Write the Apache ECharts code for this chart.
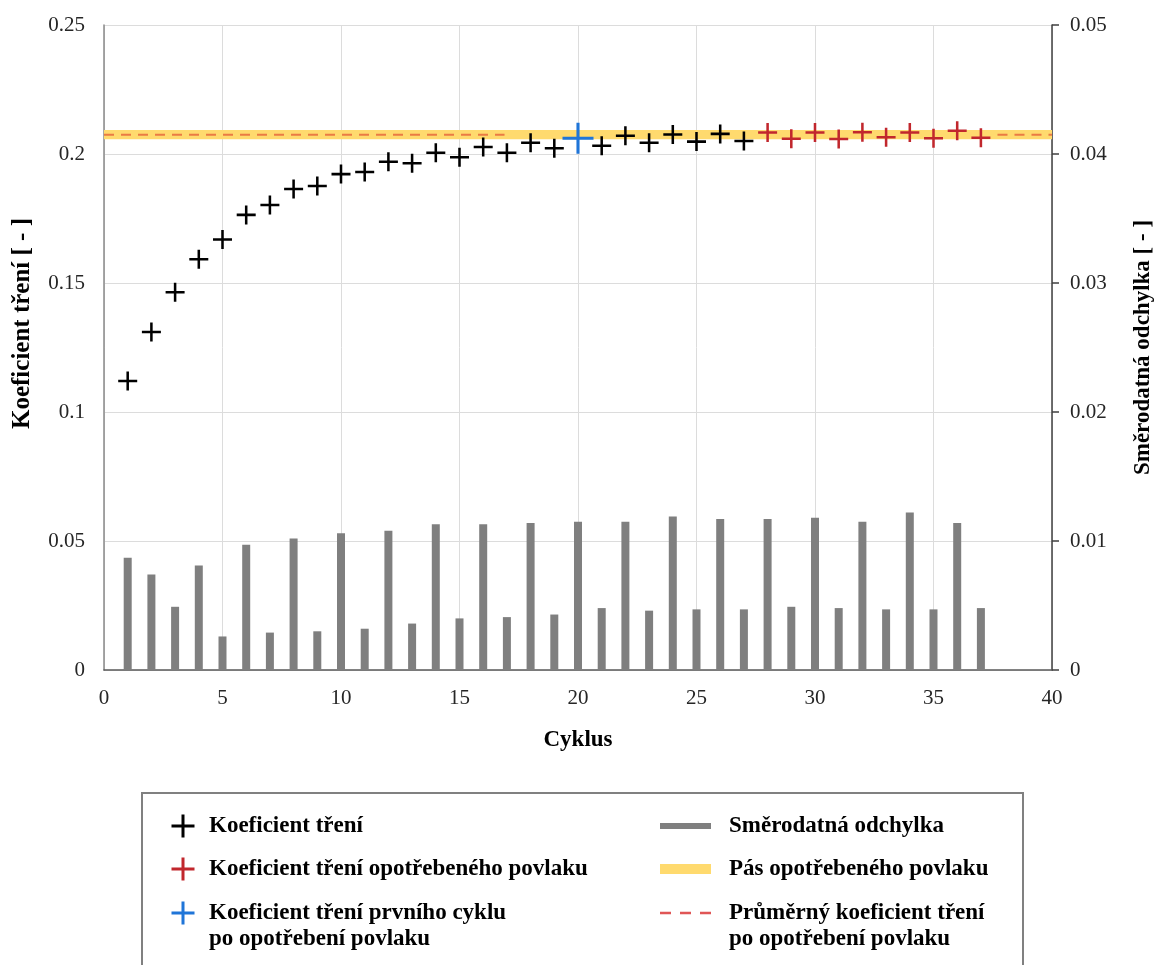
<!DOCTYPE html>
<html>
<head>
<meta charset="utf-8">
<script src="https://cdn.jsdelivr.net/npm/echarts@6/dist/echarts.min.js"></script>
<style>
html,body{margin:0;padding:0;background:#fff;}
#chart{width:1160px;height:965px;}
</style>
</head>
<body>
<div id="chart"></div>
<script>
// ---- data ----
const cycles = [1,2,3,4,5,6,7,8,9,10,11,12,13,14,15,16,17,18,19,20,21,22,23,24,25,26,27,28,29,30,31,32,33,34,35,36,37];
const frictionCoef = [0.1120,0.1310,0.1464,0.1592,0.1669,0.1764,0.1802,0.1864,0.1876,0.1922,0.1930,0.1970,0.1964,0.2005,0.1987,0.2027,0.2005,0.2044,0.2022,0.2061,0.2032,0.2071,0.2044,0.2076,0.2048,0.2078,0.2050,0.2083,0.2059,0.2083,0.2058,0.2084,0.2065,0.2083,0.2061,0.2090,0.2063];
const stdDev = [0.0087,0.0074,0.0049,0.0081,0.0026,0.0097,0.0029,0.0102,0.0030,0.0106,0.0032,0.0108,0.0036,0.0113,0.0040,0.0113,0.0041,0.0114,0.0043,0.0115,0.0048,0.0115,0.0046,0.0119,0.0047,0.0117,0.0047,0.0117,0.0049,0.0118,0.0048,0.0115,0.0047,0.0122,0.0047,0.0114,0.0048];
const firstWornCycle = 20;
const wornFromCycle = 28;
const meanWorn = 0.2075;
const bandWorn = [0.2057, 0.2093];
const meanLineSegments = [[0, 16.9], [37.7, 40]];
const xRange = [0, 40, 5];
const yLeftRange = [0, 0.25, 0.05];
const yRightRange = [0, 0.05, 0.01];

const S_BLACK = 'Koeficient tření';
const S_RED = 'Koeficient tření opotřebeného povlaku';
const S_BLUE = 'Koeficient tření prvního cyklu\npo opotřebení povlaku';
const S_STD = 'Směrodatná odchylka';
const S_BAND = 'Pás opotřebeného povlaku';
const S_MEAN = 'Průměrný koeficient tření\npo opotřebení povlaku';

// ---- build ----
const pts = cycles.map((c, i) => [c, frictionCoef[i]]);
const blackData = pts.filter(p => p[0] !== firstWornCycle && p[0] < wornFromCycle);
const blueData = pts.filter(p => p[0] === firstWornCycle);
const redData = pts.filter(p => p[0] >= wornFromCycle);
const stdData = cycles.map((c, i) => [c, stdDev[i]]);
const meanData = [];
meanLineSegments.forEach((seg, k) => {
  if (k > 0) meanData.push([(meanLineSegments[k - 1][1] + seg[0]) / 2, null]);
  meanData.push([seg[0], meanWorn], [seg[1], meanWorn]);
});

const FONT = "'Liberation Serif', 'Times New Roman', serif";
const CROSS18 = 'path://M7.8,0h2.4v7.8h7.8v2.4h-7.8v7.8h-2.4v-7.8h-7.8v-2.4h7.8z';
const CROSS30 = 'path://M13.5,0h3v13.5h13.5v3h-13.5v13.5h-3v-13.5h-13.5v-3h13.5z';
// legend icons: invisible anchor points set the icon box so the text sits at the right place
const CROSS_SHAPE = 'M19.5,0h3v10h10v3h-10v10h-3v-10h-10v-3h10z';
const LEG_CROSS_1 = 'path://M0,0h0.01M41.99,22.99h0.01' + CROSS_SHAPE;
const LEG_CROSS_2 = 'path://M0,0h0.01M41.99,48.99h0.01' + CROSS_SHAPE;
const LEG_BAR = 'path://M0,0h0.01M76.99,22.99h0.01M13,8.5h51v6h-51z';
const LEG_BAND = 'path://M0,0h0.01M76.99,22.99h0.01M13,6.5h51v10h-51z';
const LEG_DASH = 'path://M0,0h0.01M76.99,48.99h0.01M13,10.3h11v2.4h-11zM33,10.3h11v2.4h-11zM53,10.3h11v2.4h-11z';
const C_BLACK = '#000000', C_RED = '#c1272d', C_BLUE = '#1f75d8', C_GRAY = '#7f7f7f', C_YEL = '#ffda6e', C_MEAN = '#e8703f', C_MEAN_LEG = '#e05656';

const legText = { fontFamily: FONT, fontSize: 23, fontWeight: 'bold', color: '#000', lineHeight: 26 };
const legendBase = { orient: 'vertical', padding: 0, textStyle: legText, itemGap: 17 };

const chart = echarts.init(document.getElementById('chart'), null, { renderer: 'canvas' });
chart.setOption({
  animation: false,
  backgroundColor: '#ffffff',
  grid: { left: 104, right: 108, top: 25, bottom: 295, outerBoundsMode: 'none' },
  graphic: [{
    type: 'rect', silent: true, z: 0,
    shape: { x: 142, y: 793, width: 881, height: 200 },
    style: { fill: 'none', stroke: '#808080', lineWidth: 2 }
  }],
  legend: [
    Object.assign({}, legendBase, {
      left: 162, top: 813, itemWidth: 42, itemHeight: 23,
      data: [
        { name: S_BLACK, icon: LEG_CROSS_1, itemStyle: { color: C_BLACK, borderWidth: 0 } },
        { name: S_RED, icon: LEG_CROSS_1, itemStyle: { color: C_RED, borderWidth: 0 } }
      ]
    }),
    Object.assign({}, legendBase, {
      left: 162, top: 900, itemWidth: 42, itemHeight: 49,
      data: [
        { name: S_BLUE, icon: LEG_CROSS_2, itemStyle: { color: C_BLUE, borderWidth: 0 } }
      ]
    }),
    Object.assign({}, legendBase, {
      left: 647, top: 813, itemWidth: 77, itemHeight: 23,
      data: [
        { name: S_STD, icon: LEG_BAR, itemStyle: { color: C_GRAY, borderWidth: 0 } },
        { name: S_BAND, icon: LEG_BAND, itemStyle: { color: C_YEL, borderWidth: 0 } }
      ]
    }),
    Object.assign({}, legendBase, {
      left: 647, top: 900, itemWidth: 77, itemHeight: 49,
      data: [
        { name: S_MEAN, icon: LEG_DASH, itemStyle: { color: C_MEAN_LEG, borderWidth: 0 } }
      ]
    })
  ],
  xAxis: {
    type: 'value', min: xRange[0], max: xRange[1], interval: xRange[2],
    name: 'Cyklus', nameLocation: 'middle', nameGap: 59,
    nameTextStyle: { fontFamily: FONT, fontSize: 23, fontWeight: 'bold', color: '#000' },
    axisLine: { show: true, onZero: false, lineStyle: { color: '#595959', width: 1.5 } },
    axisTick: { show: false },
    axisLabel: { fontFamily: FONT, fontSize: 21, color: '#262626', margin: 18 },
    splitLine: { show: true, lineStyle: { color: '#dcdcdc', width: 1 } }
  },
  yAxis: [{
    type: 'value', min: yLeftRange[0], max: yLeftRange[1], interval: yLeftRange[2],
    name: 'Koeficient tření [ - ]', nameLocation: 'middle', nameRotate: 90, nameGap: 69,
    nameTextStyle: { fontFamily: FONT, fontSize: 25, fontWeight: 'bold', color: '#000', padding: [0, 0, 0, 48] },
    axisLine: { show: true, lineStyle: { color: '#8a8a8a', width: 1.5 } },
    axisTick: { show: false },
    axisLabel: { fontFamily: FONT, fontSize: 21, color: '#262626', margin: 19 },
    splitLine: { show: true, lineStyle: { color: '#dcdcdc', width: 1 } }
  }, {
    type: 'value', position: 'right', min: yRightRange[0], max: yRightRange[1], interval: yRightRange[2],
    name: 'Směrodatná odchylka [ - ]', nameLocation: 'middle', nameRotate: 90, nameGap: 80,
    nameTextStyle: { fontFamily: FONT, fontSize: 23, fontWeight: 'bold', color: '#000' },
    axisLine: { show: true, lineStyle: { color: '#404040', width: 1.5 } },
    axisTick: { show: true, inside: false, length: 7, lineStyle: { color: '#404040', width: 1.5 } },
    axisLabel: { fontFamily: FONT, fontSize: 21, color: '#262626', margin: 18 },
    splitLine: { show: false }
  }],
  series: [
    {
      name: S_STD, type: 'bar', xAxisIndex: 0, yAxisIndex: 1, data: stdData,
      barWidth: 8, itemStyle: { color: C_GRAY }, z: 2
    },
    {
      name: S_BAND, type: 'line', yAxisIndex: 0, data: [[xRange[0], bandWorn[0]], [xRange[1], bandWorn[0]]],
      symbol: 'none', lineStyle: { opacity: 0 }, itemStyle: { color: C_YEL }, z: 1,
      markArea: {
        silent: true, z: 1,
        itemStyle: { color: C_YEL, opacity: 1 },
        data: [[{ xAxis: xRange[0], yAxis: bandWorn[0] }, { xAxis: xRange[1], yAxis: bandWorn[1] }]]
      }
    },
    {
      name: S_MEAN, type: 'line', yAxisIndex: 0, data: meanData, connectNulls: false,
      symbol: 'none', itemStyle: { color: C_MEAN_LEG },
      lineStyle: { color: C_MEAN, width: 2, type: [10, 7], opacity: 0.9 }, z: 3
    },
    {
      name: S_BLACK, type: 'scatter', yAxisIndex: 0, data: blackData,
      symbol: CROSS18, symbolSize: 19, itemStyle: { color: C_BLACK, opacity: 1 }, z: 4
    },
    {
      name: S_RED, type: 'scatter', yAxisIndex: 0, data: redData,
      symbol: CROSS18, symbolSize: 19, itemStyle: { color: C_RED, opacity: 1 }, z: 4
    },
    {
      name: S_BLUE, type: 'scatter', yAxisIndex: 0, data: blueData,
      symbol: CROSS30, symbolSize: 31, itemStyle: { color: C_BLUE, opacity: 1 }, z: 5
    }
  ]
});
</script>
</body>
</html>
